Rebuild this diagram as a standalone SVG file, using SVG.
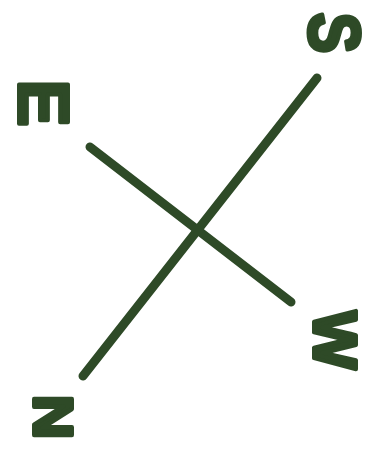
<svg xmlns="http://www.w3.org/2000/svg" width="382" height="462" viewBox="0 0 382 462">
<style>
.ln{stroke:#2e4a27;stroke-width:9;stroke-linecap:round;fill:none}
.lt{font-family:"Liberation Sans",Arial,sans-serif;font-weight:bold;fill:#2e4a27;stroke:#2e4a27;stroke-width:4;stroke-linejoin:round;text-anchor:middle}
</style>
<rect width="382" height="462" fill="#ffffff"/>
<g id="connectors">
<line class="ln" x1="83" y1="376" x2="317" y2="78"/>
<line class="ln" x1="90" y1="147" x2="291" y2="302"/>
</g>
<g id="E"><text class="lt" font-size="70" dy="0.35em" transform="translate(43,103) rotate(90)">E</text></g>
<g id="S"><text class="lt" font-size="72" dy="0.35em" transform="translate(334,33) rotate(90) scale(0.85,1)">S</text></g>
<g id="W"><text class="lt" font-size="62" dy="0.35em" transform="translate(336,340) rotate(90)">W</text></g>
<g id="N"><text class="lt" font-size="56" dy="0.35em" transform="translate(54,417) rotate(90) scale(1.1,1)">N</text></g>
</svg>
